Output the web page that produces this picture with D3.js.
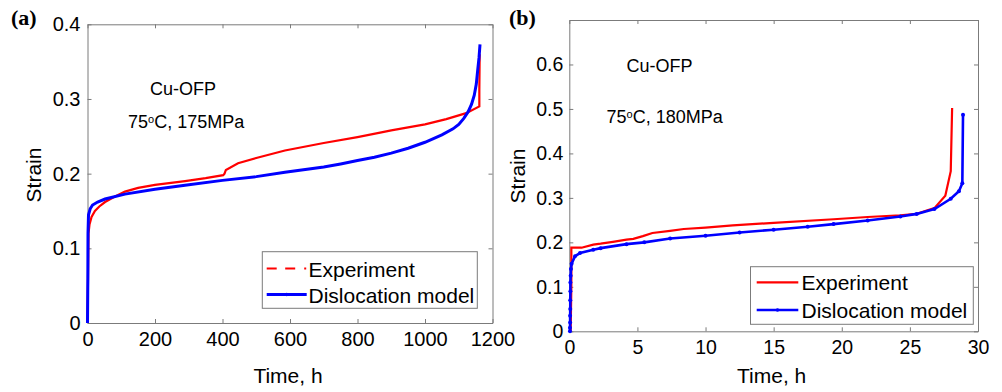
<!DOCTYPE html>
<html>
<head>
<meta charset="utf-8">
<script src="https://cdn.jsdelivr.net/npm/d3@7"></script>
<style>
  body { margin: 0; background: #fff; }
  svg text { font-family: "Liberation Sans", Arial, sans-serif; fill: #000; }
</style>
</head>
<body>
<svg id="chart" width="1002" height="392"></svg>
<script>
// panel (a): 75C, 175MPa
const aExpTime = [0, 2, 3, 6, 12, 22, 35, 52, 80, 111, 150, 200, 289, 350, 402, 406, 410, 446, 500, 585, 700, 800, 867, 900, 1000, 1063, 1122, 1161, 1161, 1162];
const aExpStrain = [0, 0.08, 0.12, 0.132, 0.142, 0.150, 0.156, 0.162, 0.169, 0.176, 0.181, 0.185, 0.190, 0.194, 0.198, 0.200, 0.205, 0.214, 0.221, 0.231, 0.241, 0.249, 0.255, 0.258, 0.266, 0.273, 0.281, 0.290, 0.312, 0.360];
const aModTime = [0, 1, 1.5, 3, 8, 15, 30, 52, 111, 200, 289, 400, 500, 585, 700, 750, 800, 850, 900, 950, 1000, 1050, 1083, 1100, 1115, 1128, 1138, 1146, 1152, 1156, 1160, 1163];
const aModStrain = [0, 0.06, 0.12, 0.145, 0.153, 0.158, 0.162, 0.166, 0.1726, 0.179, 0.1846, 0.191, 0.196, 0.202, 0.209, 0.213, 0.2175, 0.222, 0.2275, 0.234, 0.242, 0.252, 0.260, 0.266, 0.274, 0.283, 0.293, 0.305, 0.320, 0.338, 0.355, 0.373];

// panel (b): 75C, 180MPa
const bExpTime = [0.1, 0.15, 0.15, 0.9, 1.76, 2.3, 3.2, 4.2, 4.7, 5.4, 6.1, 7.4, 8.4, 10, 12, 15, 19.4, 21.9, 24.3, 25.5, 26.8, 27.6, 28, 28.1];
const bExpStrain = [0, 0.10, 0.188, 0.188, 0.195, 0.197, 0.201, 0.206, 0.208, 0.214, 0.221, 0.226, 0.230, 0.233, 0.238, 0.244, 0.252, 0.257, 0.261, 0.264, 0.277, 0.305, 0.36, 0.502];
const bModTime = [0.05, 0.05, 0.06, 0.06, 0.07, 0.07, 0.08, 0.08, 0.1, 0.12, 0.17, 0.42, 0.79, 1.76, 2.3, 4.2, 5.5, 7.4, 10, 12.5, 15, 17.5, 19.4, 21.9, 24.3, 25.5, 26.8, 28, 28.6, 28.85, 28.9];
const bModStrain = [0, 0.008, 0.02, 0.035, 0.05, 0.07, 0.09, 0.11, 0.125, 0.14, 0.152, 0.169, 0.176, 0.1836, 0.187, 0.196, 0.200, 0.2086, 0.215, 0.222, 0.2285, 0.235, 0.241, 0.249, 0.258, 0.264, 0.275, 0.298, 0.315, 0.333, 0.487];

const aXTicks = [0, 200, 400, 600, 800, 1000, 1200];
const aYTicks = [0, 0.1, 0.2, 0.3, 0.4];
const bXTicks = [0, 5, 10, 15, 20, 25, 30];
const bYTicks = [0, 0.1, 0.2, 0.3, 0.4, 0.5, 0.6];
const seriesNames = ['Experiment', 'Dislocation model'];

const svg = d3.select('#chart');
const boxColor = '#7b7b7b';

function zip(xs, ys) {
  return xs.map((x, i) => [x, ys[i]]);
}

function drawPanel(p) {
  const x = d3.scaleLinear().domain(p.xDomain).range([p.left, p.right]);
  const y = d3.scaleLinear().domain(p.yDomain).range([p.bottom, p.top]);
  const g = svg.append('g');

  // box + inward ticks on all four sides (matlab style)
  const axes = [
    [d3.axisBottom(x).tickValues(p.xTicks).tickSize(-4).tickPadding(9), `translate(0,${p.bottom})`, true],
    [d3.axisTop(x).tickValues(p.xTicks).tickSize(-4), `translate(0,${p.top})`, false],
    [d3.axisLeft(y).tickValues(p.yTicks).tickSize(-4).tickPadding(p.yPad), `translate(${p.left},0)`, true],
    [d3.axisRight(y).tickValues(p.yTicks).tickSize(-4), `translate(${p.right},0)`, false]
  ];
  axes.forEach(([ax, tr, labels]) => {
    const a = g.append('g').attr('transform', tr)
      .call(ax.tickSizeOuter(0).tickFormat(labels ? d3.format('') : ''));
    a.select('.domain').attr('stroke', boxColor);
    a.selectAll('.tick line').attr('stroke', boxColor);
    a.selectAll('.tick text').style('font-size', p.tickFont + 'px').attr('fill', '#000');
  });

  const line = d3.line().x(d => x(d[0])).y(d => y(d[1]));
  g.append('path').datum(p.exp)
    .attr('fill', 'none').attr('stroke', '#ff0000').attr('stroke-width', 2.2)
    .attr('d', line);
  g.append('path').datum(p.mod)
    .attr('fill', 'none').attr('stroke', '#0000ff').attr('stroke-width', p.modWidth)
    .attr('d', line);
  if (p.markers) {
    g.append('g').selectAll('circle').data(p.mod).join('circle')
      .attr('cx', d => x(d[0])).attr('cy', d => y(d[1])).attr('r', 2)
      .attr('fill', '#0000ff');
  }

  // labels
  g.append('text').attr('x', (p.left + p.right) / 2 - 2).attr('y', 383)
    .attr('text-anchor', 'middle').style('font-size', '21px').text('Time, h');
  g.append('text').attr('transform', `translate(${p.yLabelX},${p.yLabelY}) rotate(-90)`)
    .attr('text-anchor', 'middle').style('font-size', '21px').text('Strain');
  g.append('text').attr('x', p.tag[0]).attr('y', p.tag[1])
    .style('font-family', '"Liberation Serif", "Times New Roman", serif')
    .style('font-weight', 'bold').style('font-size', '22px').text(p.tagText);

  // annotations
  g.append('text').attr('x', p.note1[0]).attr('y', p.note1[1])
    .style('font-size', '18px').text('Cu-OFP');
  const n2 = g.append('text').attr('x', p.note2[0]).attr('y', p.note2[1]).style('font-size', '18px');
  n2.append('tspan').text('75');
  n2.append('tspan').attr('dy', -5).style('font-size', '11px').text('o');
  n2.append('tspan').attr('dy', 5).text('C, ' + p.stress);

  // legend
  const lg = g.append('g');
  lg.append('rect').attr('x', p.legend.x).attr('y', p.legend.y)
    .attr('width', p.legend.w).attr('height', p.legend.h)
    .attr('fill', '#fff').attr('stroke', boxColor).attr('stroke-width', 1);
  seriesNames.forEach((name, i) => {
    const ly = p.legend.rows[i];
    const l = lg.append('line')
      .attr('x1', p.legend.x1).attr('x2', p.legend.x2).attr('y1', ly).attr('y2', ly)
      .attr('stroke', i === 0 ? '#ff0000' : '#0000ff')
      .attr('stroke-width', i === 0 ? 2.2 : p.modWidth);
    if (i === 0 && p.legend.dashed) l.attr('stroke-dasharray', '10,8.5,10,9,2');
    if (i === 1) {
      lg.append('circle').attr('cx', (p.legend.x1 + p.legend.x2) / 2).attr('cy', ly)
        .attr('r', 1.8).attr('fill', '#0000ff');
    }
    lg.append('text').attr('x', p.legend.tx).attr('y', ly + 8)
      .style('font-size', '21px').text(name);
  });
}

drawPanel({
  xDomain: [0, 1200], yDomain: [0, 0.4],
  left: 87.5, right: 492.5, top: 24.3, bottom: 323,
  xTicks: aXTicks, yTicks: aYTicks, tickFont: 20, yPad: 7,
  exp: zip(aExpTime, aExpStrain), mod: zip(aModTime, aModStrain),
  modWidth: 3, markers: false,
  yLabelX: 41, yLabelY: 175, tag: [11, 25], tagText: '(a)',
  note1: [150, 95], note2: [128, 128], stress: '175MPa',
  legend: { x: 262.3, y: 251.7, w: 215, h: 56.6, rows: [268.5, 294.5],
            x1: 266.7, x2: 306.7, tx: 308.5, dashed: true }
});

drawPanel({
  xDomain: [0, 30], yDomain: [0, 0.7],
  left: 569.3, right: 978, top: 20, bottom: 331.3,
  xTicks: bXTicks, yTicks: bYTicks, tickFont: 19.5, yPad: 6,
  exp: zip(bExpTime, bExpStrain), mod: zip(bModTime, bModStrain),
  modWidth: 2.6, markers: true,
  yLabelX: 525, yLabelY: 176, tag: [509, 25], tagText: '(b)',
  note1: [626.5, 72], note2: [606.5, 123], stress: '180MPa',
  legend: { x: 750.5, y: 266.7, w: 222.8, h: 57.6, rows: [282.3, 310],
            x1: 756.7, x2: 798.3, tx: 801.5, dashed: false }
});
</script>
</body>
</html>
